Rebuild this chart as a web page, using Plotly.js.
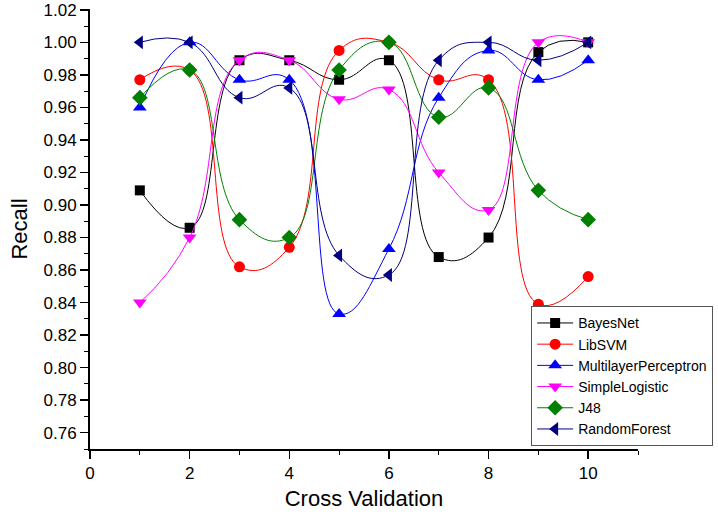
<!DOCTYPE html>
<html>
<head>
<meta charset="utf-8">
<script src="https://cdn.plot.ly/plotly-3.0.1.min.js"></script>
<style>
  body { margin: 0; background: #fff; }
  #chart { width: 718px; height: 514px; }
</style>
</head>
<body>
<div id="chart"></div>
<script>
// folds of the cross validation
var folds = [1, 2, 3, 4, 5, 6, 7, 8, 9, 10];

// recall per classifier
var bayesNet = [0.909, 0.886, 0.989, 0.989, 0.977, 0.989, 0.868, 0.880, 0.994, 1.000];
var libSVM = [0.977, 0.983, 0.862, 0.874, 0.995, 1.000, 0.977, 0.977, 0.839, 0.856];
var multilayerPerceptron = [0.960, 1.000, 0.977, 0.977, 0.833, 0.873, 0.966, 0.995, 0.977, 0.989];
var simpleLogistic = [0.840, 0.880, 0.989, 0.989, 0.965, 0.971, 0.920, 0.897, 1.000, 1.000];
var j48 = [0.966, 0.983, 0.891, 0.880, 0.983, 1.000, 0.954, 0.972, 0.909, 0.891];
var randomForest = [1.000, 1.000, 0.966, 0.972, 0.869, 0.857, 0.989, 1.000, 0.989, 1.000];

var seriesNames = ['BayesNet', 'LibSVM', 'MultilayerPerceptron', 'SimpleLogistic', 'J48', 'RandomForest'];

var yTicks = [0.76, 0.78, 0.80, 0.82, 0.84, 0.86, 0.88, 0.90, 0.92, 0.94, 0.96, 0.98, 1.00, 1.02];
var xTicks = [0, 2, 4, 6, 8, 10];

var allSeries = [bayesNet, libSVM, multilayerPerceptron, simpleLogistic, j48, randomForest];
var colors = ['#000000', '#ff0000', '#0000ff', '#ff00ff', '#008000', '#000080'];
var symbols = ['square', 'circle', 'triangle-up', 'triangle-down', 'diamond', 'triangle-left'];
var sizes = [10, 11, 12, 12, 12, 12];

var data = allSeries.map(function (vals, i) {
    return {
        x: folds,
        y: vals,
        name: seriesNames[i],
        type: 'scatter',
        mode: 'lines+markers',
        line: { color: colors[i], width: 1, shape: 'spline', smoothing: 1.3 },
        marker: { color: colors[i], symbol: symbols[i], size: sizes[i] }
    };
});

var layout = {
    width: 718,
    height: 514,
    margin: { l: 90, r: 80, t: 9, b: 65, autoexpand: false },
    paper_bgcolor: '#ffffff',
    plot_bgcolor: '#ffffff',
    font: { family: 'Liberation Sans, Arial, sans-serif', color: '#000' },
    showlegend: true,
    legend: {
        x: 0.805, xanchor: 'left',
        y: 0.006, yanchor: 'bottom',
        bgcolor: '#ffffff',
        bordercolor: '#555555',
        borderwidth: 1,
        itemwidth: 36,
        font: { size: 14, color: '#000' },
        tracegroupgap: 0
    },
    xaxis: {
        range: [0, 11],
        showline: true, linecolor: '#000', linewidth: 2,
        showgrid: false, zeroline: false,
        ticks: 'outside', ticklen: 8, tickwidth: 1.5, tickcolor: '#000',
        tickvals: xTicks,
        tickfont: { size: 17 },
        minor: { ticks: 'outside', ticklen: 4, tickwidth: 1, tickcolor: '#000', dtick: 1, showgrid: false },
        title: { text: 'Cross Validation', font: { size: 22 }, standoff: 8 }
    },
    yaxis: {
        range: [0.75, 1.0205],
        showline: true, linecolor: '#000', linewidth: 2,
        showgrid: false, zeroline: false,
        ticks: 'outside', ticklen: 8, tickwidth: 1.5, tickcolor: '#000',
        tickvals: yTicks,
        tickformat: '.2f',
        tickfont: { size: 17 },
        minor: { ticks: 'outside', ticklen: 4, tickwidth: 1, tickcolor: '#000', dtick: 0.01, tick0: 0.75, showgrid: false },
        title: { text: 'Recall', font: { size: 22 }, standoff: 10 }
    }
};

Plotly.newPlot('chart', data, layout, { displayModeBar: false, staticPlot: true });
</script>
</body>
</html>
